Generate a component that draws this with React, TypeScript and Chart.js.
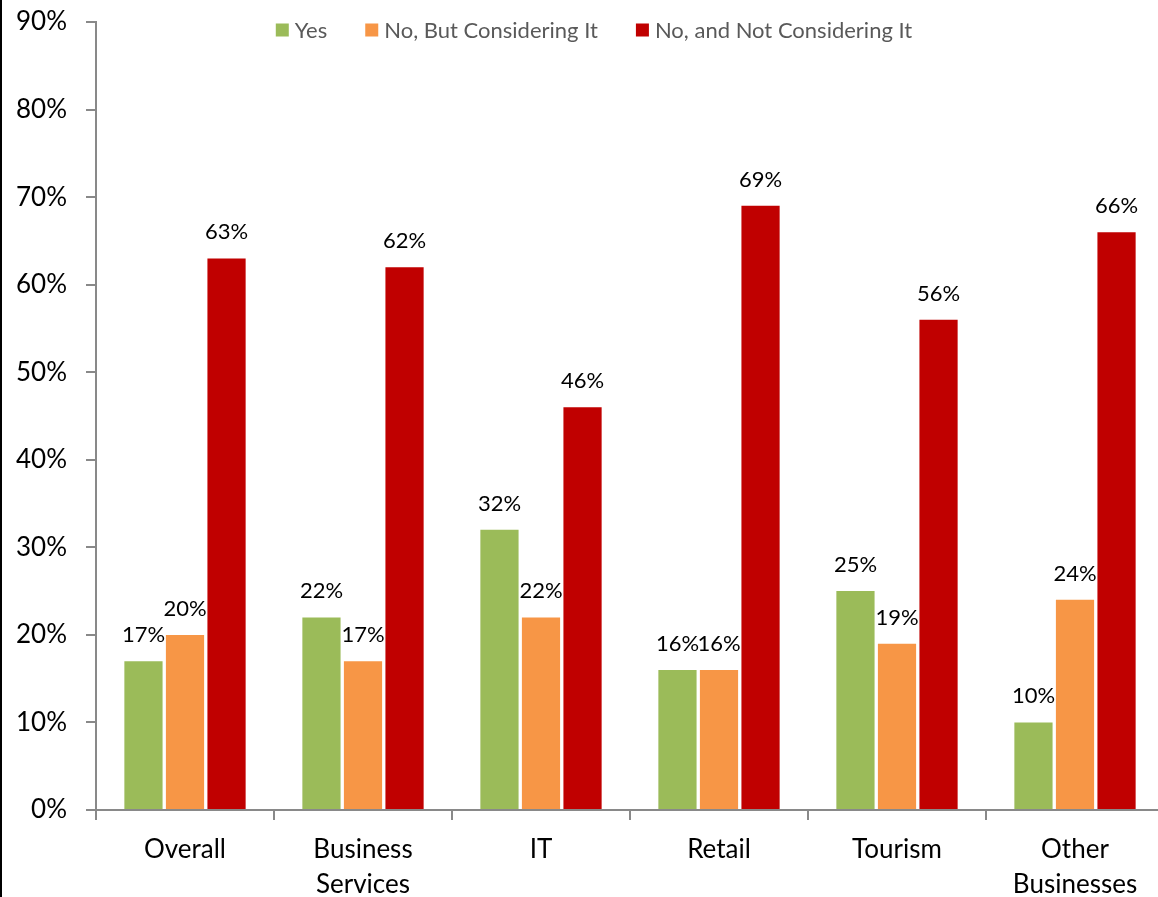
import React, { useEffect, useRef } from "react";
import { Chart, registerables } from "chart.js";

Chart.register(...registerables);

const categories: (string | string[])[] = [
  "Overall",
  ["Business", "Services"],
  "IT",
  "Retail",
  "Tourism",
  ["Other", "Businesses"],
];
const seriesNames = ["Yes", "No, But Considering It", "No, and Not Considering It"];
const yesValues = [17, 22, 32, 16, 25, 10];
const consideringValues = [20, 17, 22, 16, 19, 24];
const notConsideringValues = [63, 62, 46, 69, 56, 66];
const seriesColors = ["#9BBB59", "#F79646", "#C00000"];
const yTickMax = 90;
const yTickStep = 10;

const FONT = "Lato, 'Open Sans', sans-serif";

const dataLabelPlugin = {
  id: "dataLabels",
  afterDatasetsDraw(chart: any) {
    const ctx = chart.ctx;
    ctx.save();
    ctx.font = `22px ${FONT}`;
    ctx.fillStyle = "#000000";
    ctx.textAlign = "center";
    ctx.textBaseline = "alphabetic";
    chart.data.datasets.forEach((ds: any, i: number) => {
      const meta = chart.getDatasetMeta(i);
      meta.data.forEach((bar: any, j: number) => {
        ctx.fillText(`${ds.data[j]}%`, bar.x, bar.y - 19);
      });
    });
    ctx.restore();
  },
};

const legendPlugin = {
  id: "customLegend",
  afterDraw(chart: any) {
    const ctx = chart.ctx;
    ctx.save();
    ctx.font = `22px ${FONT}`;
    ctx.textBaseline = "middle";
    ctx.textAlign = "left";
    const box = 13;
    const gapText = 6;
    const gapItem = 38;
    const items = chart.data.datasets.map((ds: any) => ({
      label: ds.label,
      color: ds.backgroundColor,
      w: ctx.measureText(ds.label).width,
    }));
    const total =
      items.reduce((s: number, it: any) => s + box + gapText + it.w, 0) +
      gapItem * (items.length - 1);
    let x = 594 - total / 2;
    const cy = 30;
    items.forEach((it: any) => {
      ctx.fillStyle = it.color;
      ctx.fillRect(x, cy - box / 2, box, box);
      x += box + gapText;
      ctx.fillStyle = "#595959";
      ctx.fillText(it.label, x, cy + 1);
      x += it.w + gapItem;
    });
    ctx.restore();
  },
};

export default function App() {
  const ref = useRef<HTMLCanvasElement | null>(null);

  useEffect(() => {
    let chart: Chart | null = null;
    let cancelled = false;
    const make = () => {
      if (cancelled || !ref.current) return;
      chart = new Chart(ref.current, {
        type: "bar",
        data: {
          labels: categories,
          datasets: [yesValues, consideringValues, notConsideringValues].map((d, i) => ({
            label: seriesNames[i],
            data: d,
            backgroundColor: seriesColors[i],
            categoryPercentage: 0.7,
            barPercentage: 0.92,
          })),
        },
        options: {
          responsive: false,
          animation: false,
          layout: { padding: { top: 22, left: 0, right: 26, bottom: 0 } },
          plugins: {
            legend: { display: false },
            tooltip: { enabled: false },
          },
          scales: {
            x: {
              grid: {
                drawOnChartArea: false,
                drawTicks: true,
                tickLength: 10,
                color: "#898989",
                lineWidth: 2,
              },
              border: { display: true, color: "#898989", width: 2 },
              ticks: {
                color: "#000000",
                font: { family: FONT, size: 26, lineHeight: 1.35 },
                padding: 12,
                maxRotation: 0,
                autoSkip: false,
              },
              afterFit: (scale: any) => {
                scale.height = 105;
                scale.paddingLeft = 0;
                scale.paddingRight = 0;
              },
            },
            y: {
              min: 0,
              max: yTickMax,
              grid: {
                drawOnChartArea: false,
                drawTicks: true,
                tickLength: 10,
                color: "#898989",
                lineWidth: 2,
              },
              border: { display: true, color: "#898989", width: 2 },
              ticks: {
                stepSize: yTickStep,
                color: "#000000",
                font: { family: FONT, size: 26 },
                padding: 19,
                callback: (v: any) => `${v}%`,
              },
              afterFit: (scale: any) => {
                scale.width = 96;
                scale.paddingTop = 0;
                scale.paddingBottom = 0;
              },
            },
          },
        },
        plugins: [dataLabelPlugin, legendPlugin],
      });
    };
    const fonts = (document as any).fonts;
    if (fonts && fonts.load) {
      Promise.all([fonts.load(`26px Lato`), fonts.load(`22px Lato`)])
        .catch(() => {})
        .then(make);
    } else {
      make();
    }
    return () => {
      cancelled = true;
      if (chart) chart.destroy();
    };
  }, []);

  return (
    <div
      style={{
        position: "fixed",
        left: 0,
        top: 0,
        width: 1158,
        height: 897,
        overflow: "hidden",
        background: "#ffffff",
      }}
    >
      <canvas
        ref={ref}
        width={1190}
        height={915}
        style={{ display: "block", width: 1190, height: 915 }}
      />
      <div
        style={{
          position: "absolute",
          left: 0,
          top: 0,
          width: 2,
          height: 897,
          background: "#000000",
        }}
      />
    </div>
  );
}
